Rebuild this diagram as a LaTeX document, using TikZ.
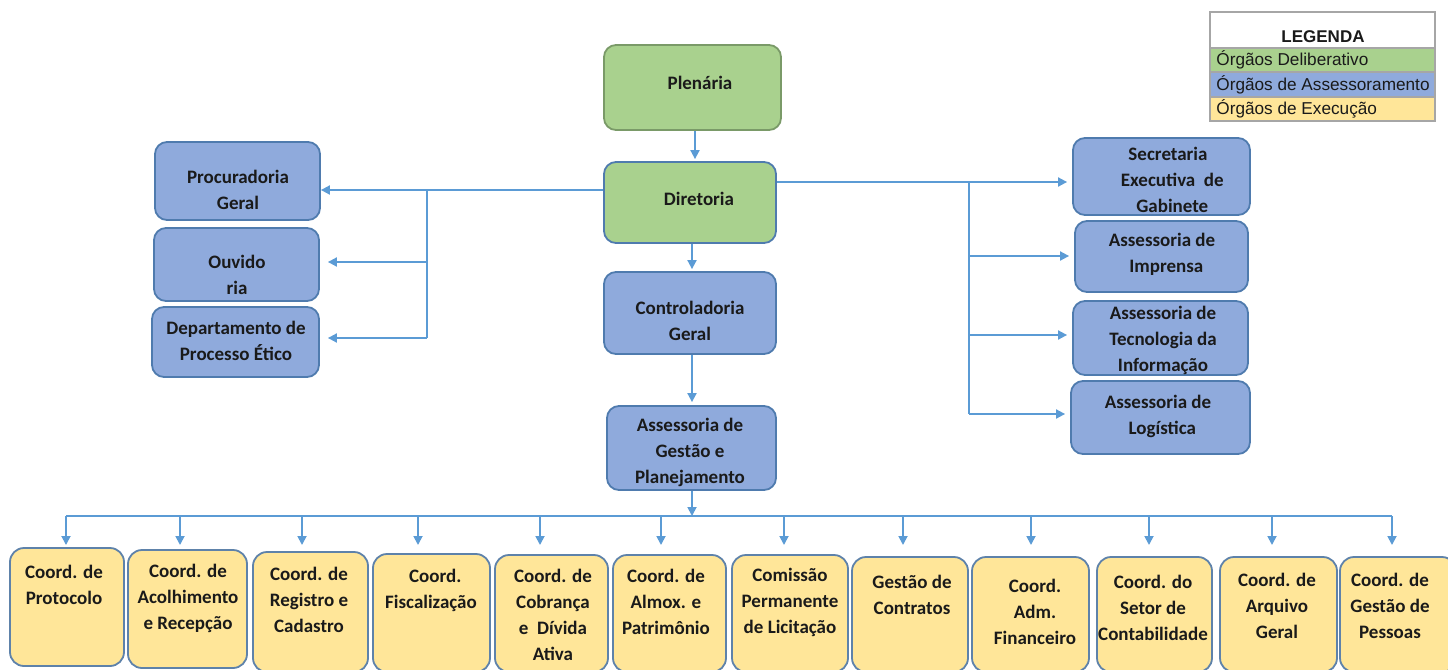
\documentclass[tikz,border=0pt]{standalone}
\usepackage{fontspec}
\setmainfont{Carlito}
\newfontfamily\legfont{Liberation Sans}
\usetikzlibrary{arrows.meta,fit}
\definecolor{gfill}{HTML}{A9D18E}
\definecolor{gdraw}{HTML}{7A9A68}
\definecolor{bfill}{HTML}{8FAADC}
\definecolor{bdraw}{HTML}{4F7BAE}
\definecolor{yfill}{HTML}{FFE699}
\definecolor{ydraw}{HTML}{5E82AA}
\definecolor{lcol}{HTML}{5B9BD5}
\definecolor{legdraw}{HTML}{A6A6A6}
\definecolor{txtc}{HTML}{1A1A1A}
\begin{document}
\begin{tikzpicture}[x=0.5pt,y=-0.5pt,
  box/.style={draw, rounded corners=6pt, line width=0.9pt, inner sep=0pt},
  gbox/.style={box, fill=gfill, draw=gdraw},
  bbox/.style={box, fill=bfill, draw=bdraw},
  ybox/.style={box, fill=yfill, draw=ydraw, rounded corners=7pt},
  txt/.style={font=\bfseries\fontsize{9.5}{13}\selectfont, align=center, inner sep=0pt, text=txtc},
  legbox/.style={draw=legdraw, line width=0.6pt, inner sep=0pt},
  legtxt/.style={font=\legfont\fontsize{8.6}{10}\selectfont, inner sep=0pt, text=txtc, anchor=west},
  conn/.style={draw=lcol, line width=0.9pt},
  arr/.style={conn, -{Triangle[length=4.5pt,width=4.5pt]}}]
\useasboundingbox (0,0) rectangle (1448,670);

% legend
\node[legbox, fill=white, fit={(1210,12)(1435,48)}] (legh) {};
\node[font=\legfont\bfseries\fontsize{8.5}{10}\selectfont, inner sep=0pt, text=txtc] (legt) at (1323,37) {LEGENDA};
\node[legbox, fill=gfill, fit={(1210,48)(1435,72)}] (leg1) {};
\node[legbox, fill=bfill, fit={(1210,72)(1435,97)}] (leg2) {};
\node[legbox, fill=yfill, fit={(1210,97)(1435,121)}] (leg3) {};
\node[legtxt] (leg1t) at (1216,60) {Órgãos Deliberativo};
\node[legtxt] (leg2t) at (1216,85) {Órgãos de Assessoramento};
\node[legtxt] (leg3t) at (1216,109) {Órgãos de Execução};

% central column
\node[gbox, fit={(604,45)(781,130)}] (plen) {};
\node[txt] (plent) at (700,83) {Plenária};
\node[gbox, draw=bdraw, fit={(604,162)(776,243)}] (dir) {};
\node[txt] (dirt) at (699,199) {Diretoria};
\node[bbox, fit={(604,272)(776,354)}] (cont) {};
\node[txt] (contt) at (690,321) {Controladoria\\Geral};
\node[bbox, fit={(607,406)(776,490)}] (agp) {};
\node[txt] (agpt) at (690,452) {Assessoria de\\Gestão e\\Planejamento};

% left column
\node[bbox, fit={(155,142)(320,220)}] (proc) {};
\node[txt] (proct) at (238,190) {Procuradoria\\Geral};
\node[bbox, fit={(154,228)(319,301)}] (ouv) {};
\node[txt] (ouvt) at (237,275) {Ouvido\\ria};
\node[bbox, fit={(152,307)(319,377)}] (dpe) {};
\node[txt] (dpet) at (236,341) {Departamento de\\Processo Ético};

% right column
\node[bbox, fit={(1073,138)(1250,215)}] (sec) {};
\node[txt] (sect) at (1168,180) {Secretaria\\\ \ Executiva\ \ de\\\ \ Gabinete};
\node[bbox, fit={(1075,221)(1248,292)}] (imp) {};
\node[txt] (impt) at (1162,254) {Assessoria de\\\ \ Imprensa};
\node[bbox, fit={(1073,301)(1248,375)}] (tec) {};
\node[txt] (tect) at (1163,340) {Assessoria de\\Tecnologia da\\Informação};
\node[bbox, fit={(1071,381)(1250,454)}] (log) {};
\node[txt] (logt) at (1158,416) {Assessoria de\\\ \ Logística};

% bottom row
\node[ybox, fit={(10,548)(124,666)}] (c1) {};
\node[txt] (c1t) at (64,585) {Coord. de\\Protocolo};
\node[ybox, fit={(128,550)(247,668)}] (c2) {};
\node[txt] (c2t) at (188,598) {Coord. de\\Acolhimento\\e Recepção};
\node[ybox, fit={(253,552)(368,672)}] (c3) {};
\node[txt] (c3t) at (309,600) {Coord. de\\Registro e\\Cadastro};
\node[ybox, fit={(373,554)(490,672)}] (c4) {};
\node[txt] (c4t) at (431,590) {\ \ Coord.\\Fiscalização};
\node[ybox, fit={(495,555)(608,672)}] (c5) {};
\node[txt] (c5t) at (553,615) {Coord. de\\Cobrança\\e\ \ Dívida\\Ativa};
\node[ybox, fit={(613,555)(726,672)}] (c6) {};
\node[txt] (c6t) at (666,602) {Coord. de\\Almox. e\\Patrimônio};
\node[ybox, fit={(732,555)(848,672)}] (c7) {};
\node[txt] (c7t) at (790,602) {Comissão\\Permanente\\de Licitação};
\node[ybox, fit={(852,557)(968,672)}] (c8) {};
\node[txt] (c8t) at (912,595) {Gestão de\\Contratos};
\node[ybox, fit={(972,557)(1089,672)}] (c9) {};
\node[txt] (c9t) at (1035,612) {Coord.\\Adm.\\Financeiro};
\node[ybox, fit={(1097,557)(1212,672)}] (c10) {};
\node[txt] (c10t) at (1153,608) {Coord. do\\Setor de\\Contabilidade};
\node[ybox, fit={(1220,557)(1337,672)}] (c11) {};
\node[txt] (c11t) at (1277,606) {Coord. de\\Arquivo\\Geral};
\node[ybox, fit={(1340,557)(1456,672)}] (c12) {};
\node[txt] (c12t) at (1390,606) {Coord. de\\Gestão de\\Pessoas};

% central connectors
\draw[arr] (695,0 |- plen.south) -- ([yshift=1pt]695,0 |- dir.north);
\draw[arr] (692,0 |- dir.south) -- ([yshift=1pt]692,0 |- cont.north);
\draw[arr] (692,0 |- cont.south) -- ([yshift=1.5pt]692,0 |- agp.north);

% left connectors
\coordinate (lj1) at (427,190);
\coordinate (lj2) at (427,262);
\coordinate (lj3) at (427,338);
\draw[arr] (dir.west |- lj1) -- (proc.east |- lj1);
\draw[conn] (lj1) -- (lj3);
\draw[arr] (lj2) -- ([xshift=4pt]ouv.east |- lj2);
\draw[arr] (lj3) -- ([xshift=4pt]dpe.east |- lj3);

% right connectors
\coordinate (rj1) at (969,182);
\coordinate (rj2) at (969,256);
\coordinate (rj3) at (969,335);
\coordinate (rj4) at (969,414);
\draw[arr] (dir.east |- rj1) -- ([xshift=-2.5pt]sec.west |- rj1);
\draw[conn] (rj1) -- (rj4);
\draw[arr] (rj2) -- ([xshift=-2.5pt]imp.west |- rj2);
\draw[arr] (rj3) -- ([xshift=-2.5pt]tec.west |- rj3);
\draw[arr] (rj4) -- ([xshift=-2.5pt]log.west |- rj4);

% bottom bus
\coordinate (bus) at (692,516);
\draw[arr] (692,0 |- agp.south) -- (bus);
\draw[conn] (66,516) -- (1392,516);
\foreach \xx/\nn in {66/c1,180/c2,302/c3,418/c4,540/c5,661/c6,784/c7,903/c8,1031/c9,1149/c10,1272/c11,1392/c12}{
  \draw[arr] (\xx,516) -- (\xx,545);
}
\end{tikzpicture}
\end{document}
